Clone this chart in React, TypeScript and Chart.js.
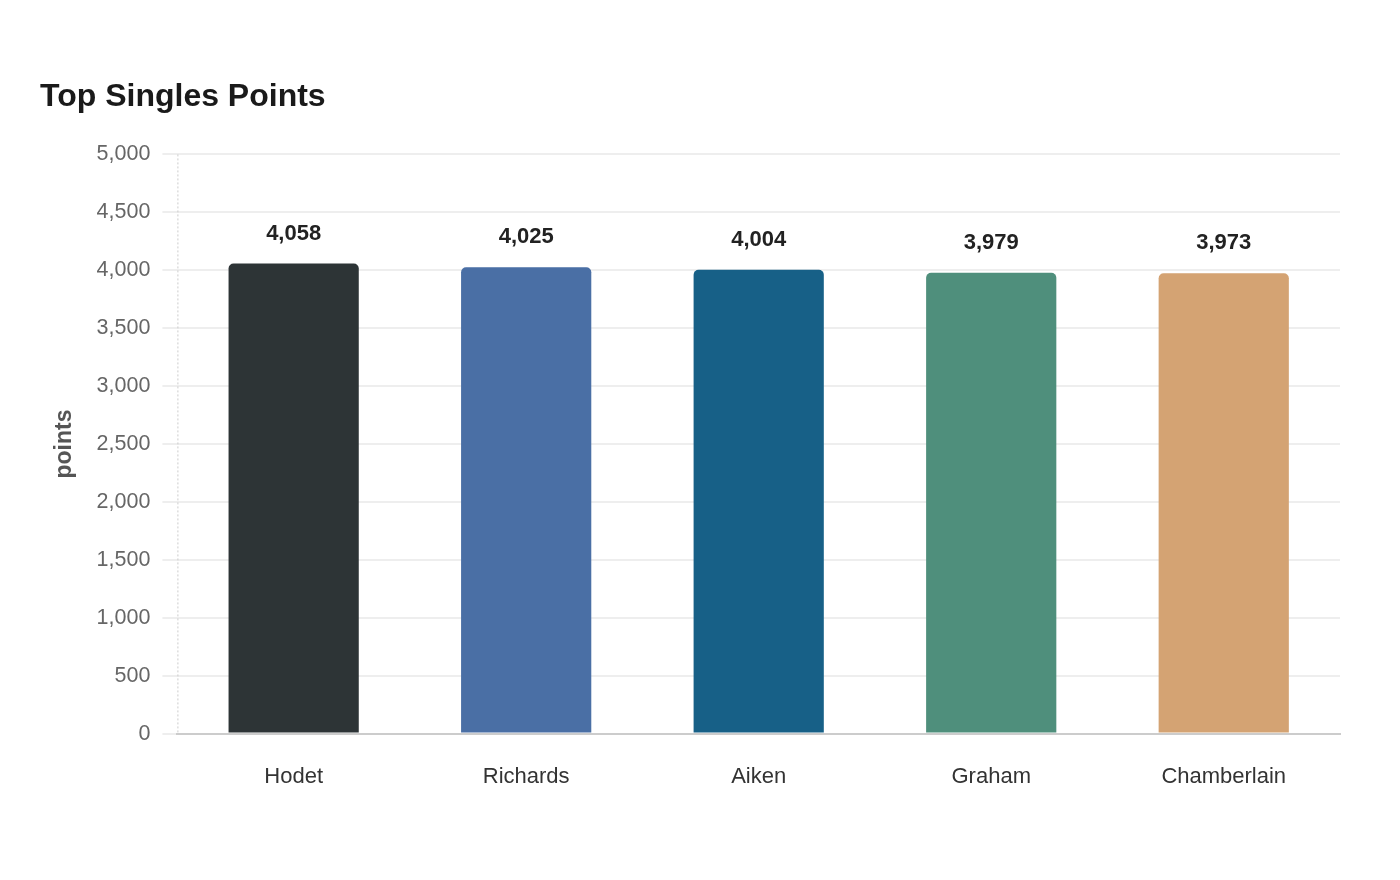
import { useEffect, useRef } from 'react';
import Chart from 'chart.js/auto';

const players = ['Hodet', 'Richards', 'Aiken', 'Graham', 'Chamberlain'];
const points = [4058, 4025, 4004, 3979, 3973];
const barColors = ['#2d3436', '#4a6fa5', '#176087', '#4f8f7c', '#d4a373'];

const FONT = '"Liberation Sans", Arial, sans-serif';

// value labels above the bars + dotted y axis line
const valueLabels = {
  id: 'valueLabels',
  afterDatasetsDraw(chart: Chart) {
    const ctx = chart.ctx;
    const meta = chart.getDatasetMeta(0);
    ctx.save();
    ctx.font = `bold 22px ${FONT}`;
    ctx.fillStyle = '#222222';
    ctx.textAlign = 'center';
    ctx.textBaseline = 'middle';
    meta.data.forEach((bar: any, i: number) => {
      ctx.fillText(points[i].toLocaleString('en-US'), bar.x, bar.y - 30);
    });
    const { left, top, bottom } = chart.chartArea;
    ctx.strokeStyle = '#cccccc';
    ctx.lineWidth = 1;
    ctx.setLineDash([2, 2]);
    ctx.beginPath();
    ctx.moveTo(left + 0.5, top);
    ctx.lineTo(left + 0.5, bottom);
    ctx.stroke();
    ctx.restore();
  },
};

const App = () => {
  const chartRef = useRef<HTMLCanvasElement | null>(null);
  const chartInstance = useRef<Chart | null>(null);

  useEffect(() => {
    if (!chartRef.current) return;
    if (chartInstance.current) chartInstance.current.destroy();

    chartInstance.current = new Chart(chartRef.current, {
      type: 'bar',
      data: {
        labels: players,
        datasets: [
          {
            label: 'points',
            data: points,
            backgroundColor: barColors,
            borderRadius: { topLeft: 5, topRight: 5 },
            borderSkipped: 'bottom',
            barPercentage: 0.7,
            categoryPercentage: 0.8,
          },
        ],
      },
      options: {
        animation: false,
        responsive: false,
        devicePixelRatio: 1,
        layout: { padding: { left: 40, right: 60, top: 78, bottom: 68 } },
        font: { family: FONT },
        plugins: {
          legend: { display: false },
          tooltip: { enabled: false },
          title: {
            display: true,
            text: 'Top Singles Points',
            align: 'start',
            color: '#1a1a1a',
            font: { size: 32, weight: 'bold', family: FONT },
            padding: { top: 0, bottom: 38 },
          },
        },
        scales: {
          x: {
            grid: { display: false },
            border: { color: '#cccccc', width: 2 },
            ticks: {
              color: '#333333',
              padding: 22,
              font: { size: 22, family: FONT },
            },
          },
          y: {
            min: 0,
            max: 5000,
            ticks: {
              stepSize: 500,
              color: '#666666',
              padding: 12,
              font: { size: 21.5, family: FONT },
              callback: (v: any) => Number(v).toLocaleString('en-US'),
            },
            grid: { color: '#eeeeee', lineWidth: 2, tickLength: 15 },
            border: { display: false },
            title: {
              display: true,
              text: 'points',
              color: '#555555',
              padding: { top: 11, bottom: 6 },
              font: { size: 23, weight: 'bold', family: FONT },
            },
          },
        },
      },
      plugins: [valueLabels],
    });
    return () => {
      chartInstance.current?.destroy();
    };
  }, []);

  return (
    <div style={{ width: 1400, height: 880, margin: -8, background: '#ffffff' }}>
      <canvas ref={chartRef} width={1400} height={880} />
    </div>
  );
};

export default App;
